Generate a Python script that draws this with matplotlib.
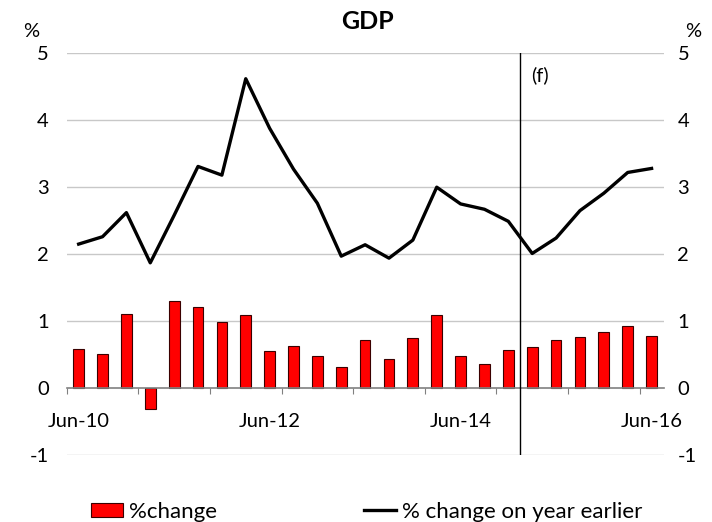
import matplotlib
matplotlib.use("Agg")
import matplotlib.pyplot as plt
from matplotlib.patches import Patch
from matplotlib.lines import Line2D
from matplotlib.ticker import FixedLocator

plt.rcParams['font.family'] = ['Lato', 'DejaVu Sans']
plt.rcParams['axes.unicode_minus'] = False

# quarterly data, Jun-10 .. Jun-16
quarters = ["Jun-10", "Sep-10", "Dec-10", "Mar-11", "Jun-11", "Sep-11", "Dec-11",
            "Mar-12", "Jun-12", "Sep-12", "Dec-12", "Mar-13", "Jun-13", "Sep-13",
            "Dec-13", "Mar-14", "Jun-14", "Sep-14", "Dec-14", "Mar-15", "Jun-15",
            "Sep-15", "Dec-15", "Mar-16", "Jun-16"]
qoq_change = [0.58, 0.51, 1.11, -0.32, 1.30, 1.21, 0.98, 1.09, 0.55, 0.63, 0.48, 0.32,
              0.72, 0.43, 0.74, 1.09, 0.48, 0.36, 0.57, 0.62, 0.71, 0.76, 0.83, 0.93, 0.78]
yoy_change = [2.15, 2.26, 2.62, 1.87, 2.58, 3.31, 3.18, 4.62, 3.88, 3.27, 2.76, 1.97,
              2.14, 1.94, 2.21, 3.00, 2.75, 2.67, 2.49, 2.01, 2.24, 2.65, 2.91, 3.22, 3.28]
label_quarters = ["Jun-10", "Jun-12", "Jun-14", "Jun-16"]
forecast_from = "Mar-15"
y_ticks = [-1, 0, 1, 2, 3, 4, 5]

x = list(range(len(quarters)))

fig = plt.figure(figsize=(7.12, 5.22), dpi=100)
ax = fig.add_axes([0.0937, 0.1284, 0.8382, 0.7695])

# gridlines
for v in y_ticks:
    if v != 0:
        ax.axhline(v, color="#c8c8c8", lw=1.0, zorder=0)

ax.bar(x, qoq_change, width=0.45, color="#ff0000", edgecolor="#3a0000", linewidth=0.8, zorder=2)
ax.plot(x, yoy_change, color="black", lw=2.4, zorder=3)

# forecast divider
fx = quarters.index(forecast_from) - 0.5
ax.axvline(fx, color="black", lw=1.0, zorder=4)
ax.text(fx + 0.45, 4.68, "(f)", fontsize=14.5, ha="left", va="center")

ax.set_xlim(-0.5, len(quarters) - 0.5)
ax.set_ylim(-1, 5)

for s in ["top", "left", "right"]:
    ax.spines[s].set_visible(False)
ax.spines["bottom"].set_position(("data", 0))
ax.spines["bottom"].set_color("#808080")
ax.spines["bottom"].set_linewidth(1.2)

ax.set_xticks([quarters.index(q) for q in label_quarters])
ax.set_xticklabels(label_quarters)
ax.xaxis.set_minor_locator(FixedLocator([i - 0.5 for i in range(0, len(quarters) + 1, 3)]))
ax.tick_params(axis="x", which="major", length=0, pad=18, labelsize=14.5)
ax.tick_params(axis="x", which="minor", length=4, width=0.8, color="#808080", direction="out")

ax.set_yticks(y_ticks)
ax.tick_params(axis="y", length=0, labelsize=14.5, pad=13)

# right-hand axis, same scale
ax2 = ax.twinx()
ax2.set_ylim(-1, 5)
ax2.set_yticks(y_ticks)
ax2.tick_params(axis="y", length=0, labelsize=14.5, pad=10)
for s in ax2.spines.values():
    s.set_visible(False)

fig.text(0.516, 0.958, "GDP", ha="center", va="center", fontsize=18, fontweight="bold")
fig.text(0.044, 0.94, "%", ha="center", va="center", fontsize=14.5)
fig.text(0.974, 0.94, "%", ha="center", va="center", fontsize=14.5)

handles = [Patch(facecolor="#ff0000", edgecolor="#3a0000", linewidth=0.8),
           Line2D([0], [0], color="black", lw=2.4)]
fig.legend(handles, ["%change", "% change on year earlier"], loc="center",
           bbox_to_anchor=(0.515, 0.02), ncol=2, frameon=False, fontsize=16,
           handlelength=1.45, handleheight=0.6, handletextpad=0.27, columnspacing=6.6)

fig.savefig("out.png", dpi=100)
